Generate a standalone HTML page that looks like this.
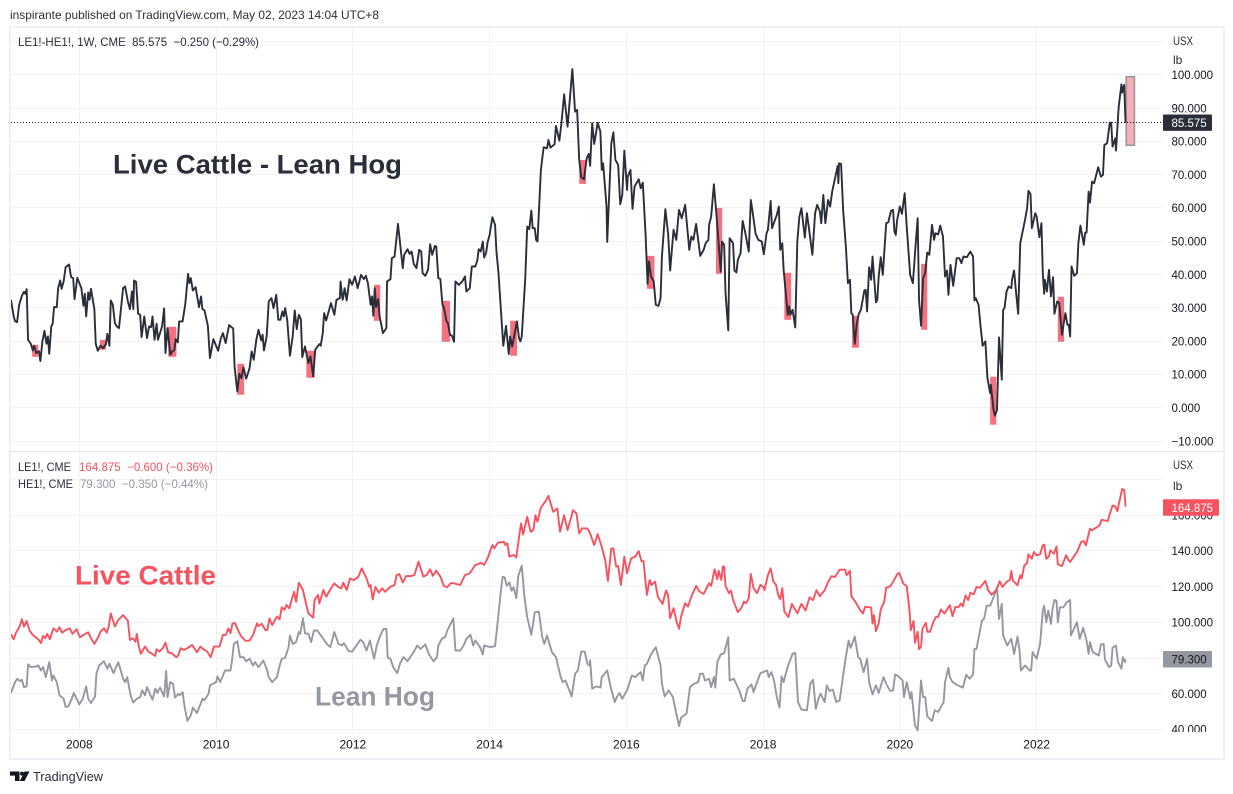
<!DOCTYPE html>
<html lang="en">
<head>
<meta charset="utf-8">
<title>Live Cattle - Lean Hog</title>
<style>
html,body{margin:0;padding:0;background:#fff;width:1233px;height:794px;overflow:hidden}
svg{display:block}
text{font-family:"Liberation Sans",sans-serif;font-size:12px;fill:#131722}
</style>
</head>
<body>
<svg id="chart" xmlns="http://www.w3.org/2000/svg" width="1233" height="794" viewBox="0 0 1233 794">
  <defs>
    <clipPath id="top-clip"><rect x="11" y="28" width="1152" height="423"/></clipPath>
    <clipPath id="bottom-clip"><rect x="11" y="452" width="1152" height="280"/></clipPath>
    <clipPath id="axis-clip"><rect x="1163" y="28" width="60" height="704"/></clipPath>
  </defs>
  <rect x="0" y="0" width="1233" height="794" fill="#ffffff"/>
  <text x="10" y="19" textLength="369" lengthAdjust="spacingAndGlyphs" fill="#2a2e39" style="fill:#2a2e39">inspirante published on TradingView.com, May 02, 2023 14:04 UTC+8</text>
  <rect x="10" y="27" width="1214" height="732" fill="none" stroke="#eff0f4" stroke-width="2"/>
  <g id="grid"></g>
  <line x1="11" x2="1223" y1="451.5" y2="451.5" stroke="#e2e4ea" stroke-width="1"/>
  <g id="seasons" clip-path="url(#top-clip)"></g>
  <g id="series"></g>
  <g id="axes"></g>

  <text x="18" y="46" textLength="241" lengthAdjust="spacingAndGlyphs" style="fill:#2a2e39;white-space:pre" xml:space="preserve">LE1!-HE1!, 1W, CME  85.575  −0.250 (−0.29%)</text>
  <text x="18" y="471" textLength="53" lengthAdjust="spacingAndGlyphs" style="fill:#2a2e39">LE1!, CME</text>
  <text x="79" y="471" textLength="134" lengthAdjust="spacingAndGlyphs" style="fill:#f7525f;white-space:pre" xml:space="preserve">164.875  −0.600 (−0.36%)</text>
  <text x="18" y="488" textLength="55" lengthAdjust="spacingAndGlyphs" style="fill:#2a2e39">HE1!, CME</text>
  <text x="80" y="488" textLength="128" lengthAdjust="spacingAndGlyphs" style="fill:#9598a1;white-space:pre" xml:space="preserve">79.300  −0.350 (−0.44%)</text>

  <text x="113" y="173.5" textLength="289" lengthAdjust="spacingAndGlyphs" style="font-size:27px;font-weight:bold;fill:#2a2e39">Live Cattle - Lean Hog</text>
  <text x="75" y="584.5" textLength="141" lengthAdjust="spacingAndGlyphs" style="font-size:27px;font-weight:bold;fill:#f7525f">Live Cattle</text>
  <text x="315" y="705.5" textLength="120" lengthAdjust="spacingAndGlyphs" style="font-size:27px;font-weight:bold;fill:#9598a1">Lean Hog</text>

  <g>
    <path d="M10 771.5H19.5V781H15V775.6H10Z" fill="#131722"/>
    <circle cx="22" cy="773.6" r="2" fill="#131722"/>
    <path d="M24.5 771.5H29.5L24.5 781H19.8Z" fill="#131722"/>
    <text x="33" y="781" textLength="70" lengthAdjust="spacingAndGlyphs" style="font-size:13px;fill:#2a2e39">TradingView</text>
  </g>
</svg>
<script>
const spreadDates = [
2007.00,2007.04,2007.06,2007.09,2007.12,2007.16,2007.19,2007.21,2007.23,2007.25,2007.29,2007.32,2007.34,2007.37,2007.41,2007.43,2007.46,2007.49,2007.52,2007.54,
2007.56,2007.59,2007.61,2007.63,2007.67,2007.69,2007.72,2007.74,2007.77,2007.80,2007.85,2007.88,2007.91,2007.93,2007.97,2008.03,2008.06,2008.08,2008.10,2008.13,
2008.15,2008.17,2008.22,2008.24,2008.27,2008.31,2008.35,2008.39,2008.41,2008.44,2008.46,2008.49,2008.52,2008.55,2008.58,2008.64,2008.67,2008.71,2008.74,2008.77,
2008.79,2008.80,2008.83,2008.86,2008.89,2008.91,2008.95,2008.99,2009.02,2009.05,2009.07,2009.10,2009.13,2009.15,2009.21,2009.24,2009.26,2009.29,2009.33,2009.36,
2009.39,2009.41,2009.44,2009.46,2009.51,2009.55,2009.59,2009.61,2009.63,2009.66,2009.70,2009.75,2009.78,2009.80,2009.83,2009.88,2009.91,2009.96,2010.03,2010.07,
2010.10,2010.14,2010.19,2010.25,2010.27,2010.31,2010.34,2010.37,2010.40,2010.44,2010.49,2010.52,2010.55,2010.59,2010.62,2010.66,2010.68,2010.70,2010.74,2010.77,
2010.81,2010.84,2010.88,2010.91,2010.94,2010.97,2010.99,2011.01,2011.04,2011.08,2011.12,2011.15,2011.18,2011.21,2011.24,2011.26,2011.30,2011.35,2011.38,2011.42,
2011.45,2011.51,2011.53,2011.56,2011.58,2011.61,2011.68,2011.73,2011.76,2011.81,2011.82,2011.85,2011.86,2011.88,2011.91,2011.95,2011.99,2012.03,2012.07,2012.12,
2012.16,2012.19,2012.22,2012.26,2012.28,2012.30,2012.32,2012.34,2012.37,2012.39,2012.44,2012.49,2012.50,2012.55,2012.57,2012.61,2012.66,2012.73,2012.75,2012.80,
2012.83,2012.86,2012.89,2012.93,2012.97,2013.00,
2013.02,2013.06,2013.10,2013.13,2013.16,2013.20,2013.22,2013.25,2013.28,2013.31,2013.33,2013.37,2013.39,2013.42,2013.45,2013.48,2013.50,2013.55,2013.60,2013.64,
2013.66,2013.71,2013.74,2013.79,2013.82,2013.84,2013.87,2013.90,2013.92,2013.95,2013.97,2014.00,2014.04,2014.08,2014.10,2014.13,2014.17,2014.20,2014.24,2014.28,
2014.30,2014.33,2014.40,2014.43,2014.45,2014.47,2014.52,2014.55,2014.58,2014.61,2014.63,2014.66,2014.68,2014.70,2014.75,2014.79,2014.84,2014.86,2014.89,2014.95,
2014.97,2015.02,2015.05,2015.09,2015.14,2015.21,2015.25,2015.28,2015.31,2015.34,2015.38,2015.42,2015.45,2015.47,2015.50,2015.53,2015.58,2015.62,2015.64,2015.66,
2015.71,2015.72,2015.78,2015.81,2015.84,2015.88,2015.91,2015.94,2015.97,2016.01,2016.02,2016.06,2016.09,2016.12,2016.18,2016.21,2016.24,2016.28,2016.31,2016.33,
2016.36,2016.40,2016.43,2016.47,2016.50,2016.52,2016.57,2016.61,2016.64,2016.69,2016.73,2016.77,2016.81,2016.86,2016.92,2016.95,2016.98,2017.02,2017.08,2017.13,
2017.16,2017.20,2017.21,2017.24,2017.28,2017.32,2017.38,2017.40,2017.43,2017.45,2017.49,2017.51,2017.56,2017.58,2017.61,2017.63,2017.67,2017.70,2017.74,2017.79,
2017.82,2017.85,2017.89,2017.93,2017.98,2018.01,2018.05,2018.07,2018.11,2018.13,2018.20,2018.23,2018.25,2018.28,2018.30,2018.36,2018.38,2018.40,2018.43,2018.47,
2018.50,2018.53,2018.56,2018.61,2018.64,2018.67,2018.72,2018.76,2018.79,2018.83,2018.85,2018.88,2018.91,2018.95,2018.98,2019.01,2019.09,2019.10,2019.11,2019.14,
2019.17,2019.21,2019.24,2019.27,2019.29,2019.31,2019.34,2019.37,2019.40,2019.43,2019.48,2019.50,2019.52,2019.55,2019.58,2019.60,2019.65,2019.67,2019.69,2019.72,
2019.75,2019.80,2019.83,2019.87,2019.90,2019.92,2019.94,2019.96,2020.00,2020.03,2020.07,2020.10,2020.15,2020.19,2020.23,2020.26,2020.28,2020.31,2020.34,2020.37,
2020.40,2020.43,2020.47,2020.50,2020.52,2020.56,2020.59,2020.63,2020.66,2020.69,2020.71,2020.74,2020.78,2020.83,2020.87,2020.90,2020.93,2020.98,2021.03,2021.07,
2021.09,2021.11,2021.15,2021.18,2021.21,2021.25,2021.28,2021.32,2021.33,2021.37,2021.39,2021.42,2021.45,2021.49,2021.51,2021.53,2021.56,2021.59,2021.63,2021.64,
2021.67,2021.70,2021.73,2021.76,2021.83,2021.86,2021.88,2021.91,2021.93,2021.98,2022.00,2022.04,2022.07,2022.09,2022.11,2022.12,2022.15,2022.18,2022.21,2022.24,
2022.26,2022.30,2022.33,2022.37,2022.42,2022.45,2022.47,2022.49,2022.51,2022.55,2022.59,2022.61,2022.64,2022.69,2022.71,2022.73,2022.76,2022.78,2022.81,2022.84,
2022.90,2022.94,2022.97,2022.99,2023.03,2023.07,2023.09,2023.11,2023.15,2023.16,2023.20,2023.24,2023.25,2023.28,2023.30
];
const spreadValues = [
32.4,27.4,26,25.7,30.9,33.6,34.8,34.2,35.6,20.4,19.2,17.2,18.6,16.4,17,14,19.9,23.1,19.2,21.4,
16.2,24.4,25.2,30.2,30.2,35.9,38.2,35.7,37.9,42.2,43,39.2,38.9,32.6,39,35.9,30.6,34.2,27.4,34.6,
32.4,35.7,29.6,19.2,17.1,18.6,17.9,19.1,22.2,18.6,32.2,30.9,25.4,24.4,23.9,35.9,36.4,31.9,29.6,34.9,
29.6,38.2,37.8,28.2,27.9,21.2,27.4,20.9,24.4,24.2,27.4,20.4,25.2,20.4,24.4,29.8,16.4,23.9,15.9,16.9,
17.4,20.6,19.6,25.9,25.9,31.2,40.2,37.4,38.9,35.2,36.2,30.2,33.4,29.6,29.2,24.6,14.9,20.6,17.1,20.9,
22.4,19.4,24.8,23.8,12.4,4.9,10.2,8.9,12.1,8.7,11.9,16.9,14.4,20.6,23.4,20.2,21.9,17.2,21.4,31.9,
32.9,29.9,33.9,26.4,26.4,28.9,27.4,29.9,26.4,15.6,21.4,29.2,23.6,27.9,26.6,15.2,18.4,13.4,15.4,9.4,
17.4,19.1,18.6,22.4,28.4,26.2,31.4,27.9,32.4,32.9,37.9,32.4,33.2,35.9,32.2,38.6,36.9,39.4,35.9,39.9,
38.6,39.6,37.4,30.9,33.4,27.6,35.9,30.2,32.6,27.6,22.4,23.9,37.9,38.6,44.9,45.4,55.2,41.9,45.9,47.6,
46.2,46.9,43.2,41.9,47.4,46.9,
40.4,39.6,41.4,49.1,45.9,48.6,48.4,38.9,38.6,30.9,30.2,25.9,25.4,21.9,21.6,19.8,37.9,36.9,37.9,39.4,
34.9,35.9,42.4,42.4,44.1,47.6,46.9,49.9,45.1,46.6,49.6,51.9,57.2,54.9,46.9,40.4,27.9,18.6,24.6,16.1,
21.4,18.4,25.9,20.9,19.9,21.4,38.4,54.4,53.6,59.2,53.9,53.9,50.4,49.9,71.4,78.2,77.9,80.4,78.1,79.1,
84.6,80.2,85.4,94.1,84.4,101.7,88.9,89.4,74.4,69.2,68.6,74.9,76.2,72.6,85.4,79.2,85.6,82.9,71.4,73.4,
60.4,49.8,79.4,82.7,74.4,72.9,61.1,63.9,77.2,65.4,69.4,71.4,59.7,66.4,68.6,65.9,67.6,52.4,37.2,43.9,
39.4,37.9,30.9,30.6,32.9,45.4,59.6,52.4,41.2,53.4,50.4,59.4,56.9,60.9,47.4,51.4,50.4,55.2,45.6,47.4,
49.4,50.4,54.9,57.4,67.1,57.4,40.9,49.9,48.9,34.4,23.2,50.9,49.4,41.2,40.6,44.4,46.4,56.1,52.4,46.9,
62.4,58.2,52.2,50.4,49.9,46.1,52.4,53.4,62.1,53.9,57.9,60.4,47.4,49.4,41.4,27.9,30.4,27.9,29.4,24.1,
49.9,57.4,59.9,51.1,58.4,53.9,45.9,58.4,60.9,58.9,55.4,63.9,55.4,62.4,60.4,64.9,72.6,67.4,73.4,73.2,
59.4,48.4,37.4,38.4,28.4,27.9,19.2,25.4,28.2,29.4,35.2,35.4,28.9,42.2,38.4,45.4,31.6,32.4,39.4,45.2,
39.9,55.4,55.7,59.1,59.4,52.9,51.9,56.4,60.4,58.2,64.4,54.4,39.9,37.4,48.9,56.9,32.4,24.6,38.9,40.4,
46.6,45.9,54.9,50.4,52.4,52,54.7,51.4,39.4,41.2,33.9,42.9,36.6,44.9,44.9,43.4,45.4,45.2,46.9,45.4,
32.2,32.9,30.9,24.4,18.6,19.9,8.9,4.4,6.9,-0.7,-2.4,-0.7,21.1,8.4,29.4,29.9,34.9,36.4,35.9,38.4,
41.2,34.4,28.2,49.4,56.4,59.9,65.1,64.2,53.9,58.4,57.4,51.2,55.4,40.4,34.2,38.4,34.9,41.4,33.4,39.2,
28.2,31.9,31.4,21.9,28.4,24.9,24.9,21.4,42.4,39.6,40.4,49.4,54.7,48.9,52.6,52.6,64.9,61.6,67.9,67.4,
72.2,69.4,69.9,78.9,79.4,85.6,85.6,78.4,80.9,77.2,90.4,97.1,94.6,96.9,85.575
];
const cattleDates = [
2007.00,2007.04,2007.07,2007.13,2007.16,2007.19,2007.23,2007.27,2007.31,2007.36,2007.40,2007.44,2007.47,2007.50,2007.53,2007.57,2007.62,2007.67,2007.71,2007.75,
2007.80,2007.86,2007.90,2007.96,2008.01,2008.06,2008.13,2008.17,2008.22,2008.28,2008.31,2008.36,2008.40,2008.43,2008.46,2008.52,2008.57,2008.64,2008.71,2008.74,
2008.78,2008.82,2008.84,2008.87,2008.90,2008.96,2009.01,2009.05,2009.11,2009.13,2009.17,2009.22,2009.26,2009.30,2009.35,2009.42,2009.45,2009.48,2009.53,2009.58,
2009.65,2009.72,2009.77,2009.83,2009.87,2009.92,2009.97,2010.05,2010.10,2010.14,2010.18,2010.21,2010.24,2010.28,2010.33,2010.37,2010.43,2010.49,2010.54,2010.60,
2010.62,2010.67,2010.72,2010.75,2010.78,2010.82,2010.89,2010.93,2010.96,2011.00,2011.03,2011.07,2011.14,2011.17,2011.21,2011.27,2011.32,2011.35,2011.42,2011.44,
2011.49,2011.51,2011.57,2011.61,2011.68,2011.73,2011.78,2011.83,2011.86,2011.91,2011.96,2012.01,2012.08,2012.13,2012.20,2012.24,2012.26,2012.29,2012.33,2012.38,
2012.43,2012.47,2012.55,2012.61,2012.64,2012.68,2012.73,2012.78,2012.85,2012.90,2012.96,2013.03,2013.08,2013.13,2013.17,2013.22,2013.28,2013.33,2013.38,2013.43,
2013.47,2013.57,2013.64,2013.71,2013.79,2013.84,2013.87,2013.92,2013.97,2014.04,2014.07,2014.12,2014.21,2014.23,2014.26,2014.29,2014.35,2014.39,2014.43,2014.46,
2014.49,2014.55,2014.60,2014.64,2014.67,2014.70,2014.75,2014.82,2014.86,2014.93,2014.99,2015.03,2015.09,2015.14,2015.22,2015.27,2015.31,2015.35,2015.43,2015.47,
2015.53,2015.58,2015.64,2015.69,2015.73,2015.78,2015.81,2015.85,2015.88,2015.92,2015.97,2016.01,2016.07,2016.13,2016.18,2016.22,2016.25,2016.30,2016.34,2016.37,
2016.42,2016.46,2016.53,2016.58,2016.61,2016.64,2016.69,2016.74,2016.77,2016.80,2016.86,2016.90,2016.96,2017.02,2017.07,2017.13,2017.21,2017.24,2017.29,2017.33,
2017.35,2017.39,2017.41,2017.43,2017.45,2017.50,2017.53,2017.56,2017.63,2017.68,2017.72,2017.75,2017.79,2017.82,2017.86,2017.91,2017.96,2018.00,2018.02,2018.07,
2018.11,2018.15,2018.19,2018.22,2018.25,2018.28,2018.31,2018.37,2018.42,2018.50,2018.56,2018.62,2018.68,2018.73,2018.78,2018.83,2018.90,2018.95,2019.00,2019.05,
2019.12,2019.20,2019.22,2019.27,2019.29,2019.34,2019.42,2019.46,2019.49,2019.58,2019.60,2019.62,2019.65,2019.69,2019.72,2019.77,2019.80,2019.86,2019.90,2019.96,
2019.99,2020.05,2020.10,2020.14,2020.16,2020.20,2020.22,2020.26,2020.28,2020.31,2020.33,2020.38,2020.40,2020.44,2020.49,2020.53,2020.56,2020.60,2020.65,2020.73,
2020.77,2020.81,2020.86,2020.89,2020.92,2020.96,2021.00,2021.03,2021.08,2021.12,2021.17,2021.25,2021.29,2021.34,2021.41,2021.46,2021.50,2021.56,2021.61,2021.63,
2021.65,2021.72,2021.76,2021.78,2021.82,2021.86,2021.88,2021.93,2021.96,2022.00,2022.05,2022.09,2022.11,2022.14,2022.18,2022.20,2022.25,2022.29,2022.31,2022.37,
2022.43,2022.47,2022.49,2022.54,2022.59,2022.65,2022.69,2022.72,2022.78,2022.81,2022.88,2022.92,2022.95,2023.04,2023.07,2023.11,2023.15,2023.18,2023.25,2023.28,
2023.30
];
const cattleValues = [
93.3,90.5,93.9,98,101.7,97.6,100.7,95.7,93.3,91.6,90.5,88.3,92.4,91.1,93.5,90.5,96.6,94.8,97.2,94.2,
95.7,96.6,93.5,96.1,91.6,92.9,94.4,91.1,87.9,92,94.8,96.6,94.2,97.6,105,97.6,101.3,104.1,100.9,90.1,
91.1,89.2,93.5,86.4,82.3,86.4,83.6,82.7,81.2,84.9,83.6,85.5,88.6,83.1,82.7,80.4,81.7,85.5,84.5,85.5,
87.3,83.2,86.4,84.5,83.6,80.4,86.4,86.4,92.9,92.9,96.6,93.9,99.4,99.4,94.8,92,89.6,89.8,92.9,99.4,
98,99.1,95.7,95.7,102.2,98.5,103.2,101.7,108.4,106.9,109.7,107.8,117.1,111.5,122.2,118.1,109.7,105,102.6,112.5,
115.3,110.6,118.1,114.3,119,121.8,120,119,122.2,118.1,124.6,123.6,125.5,130.2,124.6,119.9,120.9,112.8,119.9,116.6,
119,117.1,119.9,120.9,126.4,127,122.3,125.9,125.9,126.5,134,125.6,126.5,129.7,126,128.9,125.6,120.4,119.6,121.9,
121.9,120.9,126.5,127.4,132.1,132.7,133.4,132.1,135.8,143.3,141.4,144.6,145.1,143.3,144.2,136.8,137.7,136.4,147.6,155.4,
149.2,159.1,150.7,151.7,160,156.3,164.3,168,170.8,161.9,163.8,150.7,160,151.7,162.8,161,149.8,152.6,152.6,149.8,
143.3,149.4,142.3,134.9,123.2,141.4,141.4,131.2,131.5,120.9,136.8,127.4,135.8,136.8,139.9,134.3,134.3,115.3,123.7,120.9,
122.8,114.4,110.3,117.8,115.3,102.3,107.9,99.5,96.4,103.2,110.7,108.8,115.3,120.4,117.2,115.9,121.9,120.4,129.7,124.1,
128.9,123.7,131.2,131.2,120.4,116.3,117.8,112.6,105.7,107.9,111.6,110.7,113.5,127.1,119.1,116.3,120.9,120,118.1,126.5,
130.2,122.8,120.9,115.3,112.9,119.1,106,102.9,110.3,105.1,110.3,106.6,114,112.4,118,114.6,118,122.6,125.8,125.4,
129.5,129.5,126.3,128.8,114.6,112,106.8,104.9,108.6,108.3,99.3,104,95,99.3,107.2,111.4,119.4,120.2,122.6,126.9,
127.6,121.7,120.2,106.8,95.6,100.8,88.5,94.7,85,86.3,96.5,99.7,94.7,94.7,100.3,103.1,103.1,107.2,104.9,109.6,
103.4,108.6,108.6,110.5,109,115,112.4,116.5,115.7,119.8,119.4,123.2,118,115.5,118,123,119.8,122.6,123.9,128.8,
123.5,120.7,126.3,124.5,131.9,133.2,138.1,135.6,139.4,137.5,138.1,143.1,143.5,135.6,136.9,140.3,138.4,142.5,132.5,131.5,
137.5,134.7,133.8,136.6,139.4,145,145.5,143.1,152.4,151.5,153.3,154.3,157.4,156.7,160.8,165.4,164.9,162.3,174.7,174.2,
164.875
];
const hogDates = [
2007.00,2007.06,2007.09,2007.13,2007.16,2007.19,2007.23,2007.25,2007.29,2007.37,2007.40,2007.44,2007.47,2007.51,2007.56,2007.60,2007.62,2007.67,2007.71,2007.77,
2007.80,2007.84,2007.89,2007.92,2007.96,2008.00,2008.05,2008.10,2008.13,2008.17,2008.23,2008.25,2008.29,2008.36,2008.41,2008.44,2008.50,2008.57,2008.64,2008.67,
2008.70,2008.75,2008.79,2008.84,2008.89,2008.92,2008.96,2008.99,2009.04,2009.07,2009.11,2009.14,2009.18,2009.24,2009.27,2009.29,2009.33,2009.37,2009.40,2009.45,
2009.47,2009.51,2009.54,2009.58,2009.63,2009.66,2009.72,2009.77,2009.80,2009.83,2009.89,2009.91,2009.96,2010.00,2010.02,2010.06,2010.13,2010.21,2010.23,2010.26,
2010.31,2010.35,2010.40,2010.44,2010.49,2010.54,2010.57,2010.62,2010.69,2010.74,2010.77,2010.82,2010.89,2010.93,2010.96,2011.01,2011.06,2011.08,2011.12,2011.17,
2011.21,2011.23,2011.27,2011.30,2011.35,2011.39,2011.43,2011.48,2011.55,2011.62,2011.67,2011.73,2011.79,2011.84,2011.87,2011.94,2011.99,2012.11,2012.15,2012.20,
2012.25,2012.31,2012.35,2012.40,2012.45,2012.49,2012.51,2012.55,2012.59,2012.65,2012.69,2012.74,2012.80,2012.84,2012.89,2012.94,2012.99,2013.06,2013.11,2013.18,
2013.23,2013.25,2013.30,2013.35,2013.38,2013.43,2013.47,2013.50,2013.57,2013.62,2013.66,2013.72,2013.76,2013.79,2013.86,2013.90,2013.92,2014.01,2014.08,2014.12,
2014.16,2014.19,2014.22,2014.25,2014.29,2014.32,2014.35,2014.39,2014.42,2014.47,2014.51,2014.55,2014.61,2014.66,2014.72,2014.77,2014.80,2014.84,2014.91,2014.97,
2015.04,2015.07,2015.11,2015.20,2015.25,2015.29,2015.34,2015.39,2015.43,2015.46,2015.47,2015.50,2015.56,2015.62,2015.64,2015.72,2015.77,2015.83,2015.86,2015.90,
2015.94,2016.01,2016.08,2016.13,2016.21,2016.24,2016.27,2016.30,2016.36,2016.43,2016.50,2016.52,2016.56,2016.62,2016.68,2016.77,2016.80,2016.88,2016.93,2016.99,
2017.05,2017.08,2017.12,2017.15,2017.21,2017.24,2017.28,2017.30,2017.33,2017.38,2017.43,2017.49,2017.51,2017.57,2017.65,2017.70,2017.73,2017.77,2017.83,2017.86,
2017.92,2017.96,2018.06,2018.08,2018.12,2018.16,2018.20,2018.24,2018.27,2018.30,2018.35,2018.43,2018.47,2018.51,2018.56,2018.64,2018.69,2018.73,2018.77,2018.81,
2018.84,2018.90,2018.93,2018.97,2019.02,2019.07,2019.12,2019.16,2019.20,2019.25,2019.28,2019.34,2019.39,2019.42,2019.47,2019.52,2019.55,2019.60,2019.65,2019.69,
2019.76,2019.81,2019.86,2019.90,2019.93,2019.98,2020.04,2020.06,2020.10,2020.15,2020.17,2020.22,2020.26,2020.31,2020.34,2020.37,2020.40,2020.47,2020.51,2020.56,
2020.64,2020.66,2020.71,2020.73,2020.77,2020.83,2020.92,2020.97,2021.02,2021.07,2021.09,2021.12,2021.20,2021.23,2021.27,2021.32,2021.37,2021.42,2021.45,2021.49,
2021.51,2021.57,2021.63,2021.67,2021.72,2021.75,2021.77,2021.83,2021.90,2021.92,2021.94,2022.00,2022.05,2022.09,2022.11,2022.14,2022.17,2022.21,2022.23,2022.26,
2022.29,2022.31,2022.34,2022.39,2022.44,2022.49,2022.50,2022.59,2022.63,2022.68,2022.73,2022.76,2022.78,2022.82,2022.91,2022.94,2022.98,2023.00,2023.06,2023.09,
2023.11,2023.16,2023.19,2023.24,2023.26,2023.29,2023.30
];
const hogValues = [
60.4,66.5,68.4,67.1,67.8,63.7,64.1,76.4,74.9,75.3,75.8,73,74.9,69.3,77.7,67.4,70.2,66.5,59.1,57.2,
52.6,52.9,57.2,60.4,57.2,54,57.2,64.1,57.2,54.8,58.5,71.2,75.8,78.2,74,76.8,71.5,77.7,68.4,66.5,
69.3,59.1,55,57.2,58.1,61.9,59.1,63.7,59.1,56.6,62.8,60.4,63.4,58.5,72.7,58.1,66.5,65.6,57.8,60,
59.1,60.9,52.6,44.7,47.9,52.2,49.2,54,57.2,56.3,60,64.7,65.6,66.5,69.7,66.5,73,73,77.7,87.9,
89.4,80.5,80.5,78.2,79.6,75.8,77.7,74.9,78.6,74,69.3,66.5,69.3,75.8,79.6,80.1,86.1,92.6,87.9,88.9,
94.5,93.5,102.3,93.9,93.5,88.9,95.4,95.4,91.7,87.9,86.1,94.5,87.9,87,88.3,83.8,83.6,90.2,88.9,84.2,
89.8,79.6,87,92.6,96.3,96.3,80.1,79.6,74.9,71.5,76.8,80.5,78.2,80.5,83.3,87,85.1,87.6,82.3,78.1,
80.5,87,90.7,91.7,95.4,99.1,102.3,84.2,84.2,87,90.7,93,87,89.8,86.1,82,87,86.1,86.6,101,
115.9,125.5,125.2,120.5,122.4,117.7,119.6,113.6,126.1,131.7,114,102.8,93,105.6,106,91.7,87.9,92.6,83.3,80.5,
69.3,66.5,67.4,58.5,71.2,73,83.6,83.6,76.8,75.8,78.6,62.8,64.1,63.4,69.3,73,63.7,55.3,58.1,60.4,
57.2,61.9,70.2,69.3,72.1,67.4,75.8,76.8,82,86.1,75.8,65.6,58.5,61.9,58.1,41.9,46.6,48.8,63.7,65.6,
66.5,71.2,71.2,67.4,68.4,63.7,69.3,63.4,77.7,82,82.7,91.7,67.4,68.4,61.9,55.9,55.9,62.8,65.2,60.9,
67.4,71.5,73,69.3,72.1,67.4,58.1,52.2,69.7,66.5,74,82.3,82.9,55.3,51.1,50.7,65.6,67.8,51.6,57.2,
60,55.3,64.7,61.5,62.2,55.3,56.3,67.4,78.2,89.8,85.7,92,80.5,79.6,72.1,79.6,66.5,59.6,64.7,60.4,
69.3,64.7,61.5,61.9,70.8,69.7,67.4,58.1,66.5,57.2,60.9,42.3,39.5,67.4,58.1,58.1,47.3,44.7,50.7,49.8,
55.3,66.5,74.5,69.3,66.5,65,63.4,70.6,68.4,70.8,85.1,85.1,101,101.9,109.3,109.3,114,119.6,101.9,110.3,
92.6,87,90.7,82.3,92,84.2,73,75.8,73,73,83.3,79.6,87.9,106.6,109.3,100,106.6,99.1,106.9,112.5,
112.1,100,108.4,108.4,111.2,112.5,92.6,100,90.7,96.9,89.8,82.3,88.9,83.3,81.4,87.6,87.9,79,74.9,75.8,
85.7,87,77.7,74,80.5,77.7,79.3
];
const seasonStarts = [2007.31,2008.30,2009.30,2010.31,2011.32,2012.31,2013.30,2014.30,2015.31,2016.30,2017.31,2018.31,2019.30,2020.31,2021.32,2022.31,2023.31];
const seasonEnds = [2007.40,2008.39,2009.42,2010.41,2011.44,2012.40,2013.42,2014.40,2015.41,2016.41,2017.40,2018.41,2019.40,2020.40,2021.41,2022.40,2023.43];
const seasonHighs = [18.9,20.4,24.3,13.2,17.1,36.9,32.1,26.1,74.4,45.6,60,40.5,27.6,43.2,9.3,33.3,99.4];
const seasonLows = [15.3,17.4,15.3,3.9,9,26.1,19.8,15.6,67.2,35.7,40.2,26.4,18,23.4,-5.1,19.8,78.8];
const yearTicks = [2008,2010,2012,2014,2016,2018,2020,2022];
const topGridValues = [110,100,90,80,70,60,50,40,30,20,10,0,-10];
const topTickValues = [100,90,80,70,60,50,40,30,20,10,0,-10];
const bottomGridValues = [180,160,140,120,100,80,60,40];
const bottomTickValues = [160,140,120,100,80,60,40];

const svg = document.getElementById('chart');
const gridGroup = document.getElementById('grid');
const seasonGroup = document.getElementById('seasons');
const seriesGroup = document.getElementById('series');
const axisGroup = document.getElementById('axes');
const NS = 'http://www.w3.org/2000/svg';

function xScale(year) { return 79.33 + (year - 2008) * 68.38; }
function yTop(value) { return 407.7 - value * 3.33; }
function yBottom(value) { return 729.4 - (value - 40) * 1.785; }
function crisp(p) { return Math.round(p - 0.5) + 0.5; }
function make(tag, parent) { const el = document.createElementNS(NS, tag); parent.appendChild(el); return el; }
function fmt(value) { return (value < 0 ? '\u2212' : '') + Math.abs(value).toFixed(3); }
function set(el, props) { for (const k in props) el.setAttribute(k, props[k]); }

/* horizontal grid */
topGridValues.forEach(function (v) {
  const line = make('line', gridGroup);
  
  
  set(line, { x1: 11, x2: 1163, y1: crisp(yTop(v)), y2: crisp(yTop(v)), stroke: '#f0f2f6', 'stroke-width': 1 });
});
bottomGridValues.forEach(function (v) {
  const line = make('line', gridGroup);
  
  
  set(line, { x1: 11, x2: 1163, y1: crisp(yBottom(v)), y2: crisp(yBottom(v)), stroke: '#f0f2f6', 'stroke-width': 1 });
});
/* vertical grid + time labels */
yearTicks.forEach(function (year) {
  const px = crisp(xScale(year));
  const upper = make('line', gridGroup);
  
  
  set(upper, { x1: px, x2: px, y1: 28, y2: 451, stroke: '#f0f2f6', 'stroke-width': 1 });
  const lower = make('line', gridGroup);
  
  
  set(lower, { x1: px, x2: px, y1: 452, y2: 731, stroke: '#f0f2f6', 'stroke-width': 1 });
  const label = make('text', axisGroup);
  
  
  set(label, { x: xScale(year), y: 748.5, 'text-anchor': 'middle' });
  label.textContent = String(year);
});

/* seasonal boxes */
seasonStarts.forEach(function (start, i) {
  const box = make('rect', seasonGroup);
  
  
  const isLast = i === seasonStarts.length - 1;
  set(box, {
    x: xScale(start),
    y: yTop(seasonHighs[i]),
    width: xScale(seasonEnds[i]) - xScale(start),
    height: yTop(seasonLows[i]) - yTop(seasonHighs[i]),
    fill: isLast ? '#f9adb4' : '#f6707e'
  });
  if (isLast) { set(box, { stroke: '#9598a1', 'stroke-width': 1.6 }); }
});

/* series lines */
function pathFor(dates, values, yFn) {
  let d = '';
  const n = Math.min(dates.length, values.length);
  for (let i = 0; i < n; i++) {
    d += (i ? 'L' : 'M') + xScale(dates[i]).toFixed(2) + ' ' + yFn(values[i]).toFixed(2);
  }
  return d;
}
const spreadLine = make('path', seriesGroup);


set(spreadLine, { d: pathFor(spreadDates, spreadValues, yTop), fill: 'none', stroke: '#2a2e39', 'stroke-width': 1.9, 'stroke-linejoin': 'round', 'clip-path': 'url(#top-clip)' });

const hogLine = make('path', seriesGroup);


set(hogLine, { d: pathFor(hogDates, hogValues, yBottom), fill: 'none', stroke: '#9598a1', 'stroke-width': 1.9, 'stroke-linejoin': 'round', 'clip-path': 'url(#bottom-clip)' });

const cattleLine = make('path', seriesGroup);


set(cattleLine, { d: pathFor(cattleDates, cattleValues, yBottom), fill: 'none', stroke: '#f7525f', 'stroke-width': 1.9, 'stroke-linejoin': 'round', 'clip-path': 'url(#bottom-clip)' });

/* last price line */
const lastSpread = spreadValues[spreadValues.length - 1];
const lastCattle = cattleValues[cattleValues.length - 1];
const lastHog = hogValues[hogValues.length - 1];
const priceLine = make('line', seriesGroup);


set(priceLine, { x1: 11, x2: 1163, y1: crisp(yTop(lastSpread)), y2: crisp(yTop(lastSpread)), stroke: '#131722', 'stroke-width': 1, 'stroke-dasharray': '1 2' });

/* price axis labels */
const axisLabels = make('g', axisGroup);


axisLabels.setAttribute('clip-path', 'url(#axis-clip)');
topTickValues.forEach(function (v) {
  const t = make('text', axisLabels);
  
  
  set(t, { x: 1171.5, y: yTop(v) + 4.3 });
  t.style.fontSize = '11.5px';
  t.textContent = fmt(v);
});
bottomTickValues.forEach(function (v) {
  const t = make('text', axisLabels);
  
  
  set(t, { x: 1171.5, y: yBottom(v) + 4.3 });
  t.style.fontSize = '11.5px';
  t.textContent = fmt(v);
});
[['USX', 45], ['lb', 64], ['USX', 469], ['lb', 490]].forEach(function (u) {
  const t = make('text', axisLabels);
  
  
  set(t, { x: 1173, y: u[1] });
  if (u[0] === 'USX') { set(t, { textLength: 20, lengthAdjust: 'spacingAndGlyphs' }); }
  t.style.fill = '#2a2e39';
  t.textContent = u[0];
});

/* last price badges */
function badge(name, value, cy, width, bg, fg) {
  const r = make('rect', axisGroup);
  
  
  set(r, { x: 1163, y: cy - 8.2, width: width, height: 16.4, rx: 1, fill: bg });
  const t = make('text', axisGroup);
  
  
  set(t, { x: 1171.5, y: cy + 4.3 });
  t.style.fontSize = '11.5px';
  t.style.fill = fg;
  t.textContent = fmt(value);
}
badge('spread-price', lastSpread, yTop(lastSpread), 49, '#2a2e39', '#ffffff');
badge('cattle-price', lastCattle, yBottom(lastCattle) + 1, 56, '#f7525f', '#ffffff');
badge('hog-price', lastHog, yBottom(lastHog), 49, '#9598a1', '#131722');
</script>
</body>
</html>
